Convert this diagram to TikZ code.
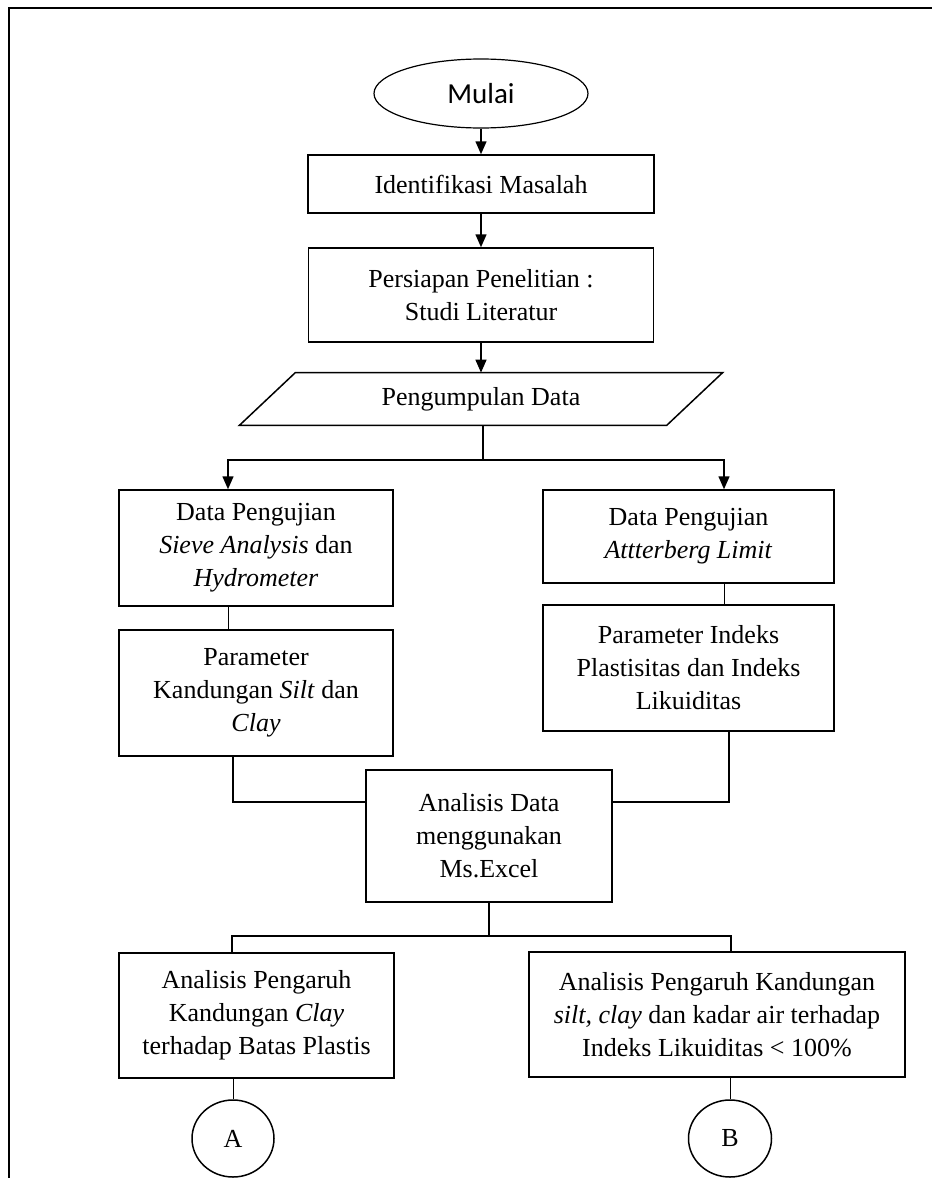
\documentclass[tikz,border=0pt]{standalone}
\usepackage{fontspec}
\setmainfont{Liberation Serif}
\newfontfamily\calibri{Carlito}
\usetikzlibrary{arrows.meta,shapes.geometric}

\tikzset{
  txt/.style={font=\fontsize{13}{16.5}\selectfont},
  box/.style={txt, draw, line width=0.75pt, inner sep=0pt, align=center},
  conn/.style={line width=0.75pt},
  thin/.style={line width=0.45pt},
  arr/.style={-{Triangle[length=6.5pt,width=5.5pt]}, line width=0.75pt},
}

\begin{document}
\begin{tikzpicture}[x=0.5pt, y=-0.5pt]
        \useasboundingbox (0,0) rectangle (932,1178);
        % frame
        \draw[line width=1pt] (9,1178) -- (9,8) -- (932,8);
        % top column
        \node[draw, ellipse, line width=0.6pt, inner sep=0pt, minimum width=107pt, minimum height=34.5pt,
              font=\calibri\fontsize{14.5}{16}\selectfont] (mulai) at (481,93.5) {Mulai};
        \node[box, minimum width=173pt, minimum height=29pt] (ident) at (481,184) {Identifikasi Masalah};
        \node[box, minimum width=172.5pt, minimum height=47pt] (persiapan) at (481,295)
          {Persiapan Penelitian :\\ Studi Literatur};
        \node[txt, inner sep=0pt, minimum width=213.25pt, minimum height=26pt] (kumpul) at (481,399) {Pengumpulan Data};
        \draw[line width=0.75pt] ([xshift=-14pt]kumpul.south west) -- ([xshift=14pt]kumpul.north west)
          -- ([xshift=14pt]kumpul.north east) -- ([xshift=-14pt]kumpul.south east) -- cycle;
        % left column
        \node[box, minimum width=137pt, minimum height=58pt] (sieve) at (256,548)
          {Data Pengujian\\ \textit{Sieve Analysis} dan\\ \textit{Hydrometer}};
        \node[box, minimum width=137pt, minimum height=63pt] (silt) at (256,693)
          {Parameter\\ Kandungan \textit{Silt} dan\\ \textit{Clay}};
        % right column
        \node[box, minimum width=145.5pt, minimum height=46.5pt] (atter) at (688.5,536.5)
          {Data Pengujian\\ \textit{Attterberg Limit}};
        \node[box, minimum width=145.5pt, minimum height=63pt] (indeks) at (688.5,668)
          {Parameter Indeks\\ Plastisitas dan Indeks\\ Likuiditas};
        % analysis
        \node[box, minimum width=123pt, minimum height=66pt] (analisis) at (489,836)
          {Analisis Data\\ menggunakan\\ Ms.Excel};
        \node[box, minimum width=137.5pt, minimum height=62.5pt] (pclay) at (256.5,1015.5)
          {Analisis Pengaruh\\ Kandungan \textit{Clay}\\ terhadap Batas Plastis};
        \node[box, minimum width=188pt, minimum height=62.5pt] (pll) at (717,1014.5)
          {Analisis Pengaruh Kandungan\\ \textit{silt, clay} dan kadar air terhadap\\ Indeks Likuiditas < 100\%};
        % connectors A and B
        \node[box, ellipse, minimum width=41pt, minimum height=38.5pt] (cA) at (233,1138.5) {A};
        \node[box, ellipse, minimum width=41.5pt, minimum height=38.5pt] (cB) at (730,1138.5) {B};
        \coordinate (split) at (483,460);
        \coordinate (merge) at (489,936);
        % arrows
        \draw[arr] (mulai) -- (ident);
        \draw[arr] (ident) -- (persiapan);
        \draw[arr] (persiapan) -- (persiapan.south |- kumpul.north);
        \draw[conn] (split |- kumpul.south) -- (split);
        \draw[arr] (split) -| ([xshift=-14pt]sieve.north);
        \draw[arr] (split) -| ([xshift=17.75pt]atter.north);
        \draw[thin] ([xshift=-14pt]sieve.south) -- ([xshift=-14pt]silt.north);
        \draw[thin] ([xshift=17.75pt]atter.south) -- ([xshift=17.75pt]indeks.north);
        \draw[conn] ([xshift=-11.5pt]silt.south) |- ([yshift=17pt]analisis.west);
        \draw[conn] ([xshift=20.25pt]indeks.south) |- ([yshift=17pt]analisis.east);
        \draw[conn] (analisis.south -| merge) -- (merge);
        \draw[conn] (merge) -| ([xshift=-12.25pt]pclay.north);
        \draw[conn] (merge) -| ([xshift=7pt]pll.north);
        \draw[thin] (cA.north |- pclay.south) -- (cA.north);
        \draw[thin] (cB.north |- pll.south) -- (cB.north);
      \end{tikzpicture}
\end{document}
